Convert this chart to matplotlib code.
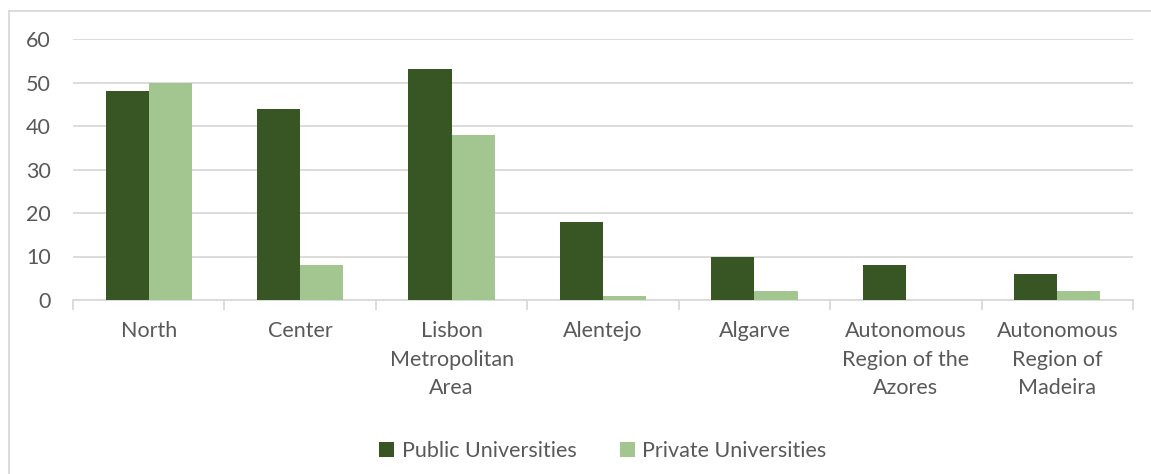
import numpy as np
import matplotlib.pyplot as plt
from matplotlib.lines import Line2D

plt.rcParams['font.family'] = ['Lato', 'DejaVu Sans']

regions = ['North', 'Center', 'Lisbon\nMetropolitan\nArea', 'Alentejo', 'Algarve',
           'Autonomous\nRegion of the\nAzores', 'Autonomous\nRegion of\nMadeira']
public_unis = [48, 44, 53, 18, 10, 8, 6]
private_unis = [50, 8, 38, 1, 2, 0, 2]

dark_green = '#375623'
light_green = '#A3C590'
grid_col = '#D9D9D9'
text_col = '#595959'
fs = 15.5

W, H = 1151, 474
fig = plt.figure(figsize=(W / 100, H / 100), dpi=100)
ax = fig.add_axes([73 / W, 1 - 300 / H, (1133 - 73) / W, (300 - 39) / H])

x = np.arange(len(regions))
w = 0.285
ax.bar(x - w / 2, public_unis, w, color=dark_green, label='Public Universities', zorder=3)
ax.bar(x + w / 2, private_unis, w, color=light_green, label='Private Universities', zorder=3)

ax.set_xlim(-0.5, len(regions) - 0.5)
ax.set_ylim(0, 60)
ax.set_yticks(range(0, 61, 10))
ax.yaxis.grid(True, color=grid_col, linewidth=1.3, zorder=0)
ax.tick_params(axis='y', length=0, labelsize=fs, colors=text_col, pad=16)

for s in ['top', 'right', 'left']:
    ax.spines[s].set_visible(False)
ax.spines['bottom'].set_color(grid_col)
ax.spines['bottom'].set_linewidth(1.3)

# category labels centred, boundary ticks between groups
ax.set_xticks(x)
ax.set_xticklabels(regions, fontsize=fs, color=text_col, linespacing=1.55)
ax.tick_params(axis='x', length=0, pad=15)
ax.set_xticks(np.arange(-0.5, len(regions), 1), minor=True)
ax.tick_params(axis='x', which='minor', length=7, width=1.3, color=grid_col)

ax.legend(loc='center', bbox_to_anchor=(0.5, (300 - 451) / (300 - 39)), ncol=2, frameon=False,
          fontsize=fs, labelcolor=text_col, handlelength=0.7, handleheight=0.7,
          handletextpad=0.35, columnspacing=2.0)

# chart frame
fig.add_artist(Line2D([9 / W, 9 / W], [0, 1 - 11 / H], color=grid_col, linewidth=1.3,
                      transform=fig.transFigure))
fig.add_artist(Line2D([9 / W, 1], [1 - 11 / H, 1 - 11 / H], color=grid_col, linewidth=1.3,
                      transform=fig.transFigure))

fig.savefig('out.png', dpi=100)
